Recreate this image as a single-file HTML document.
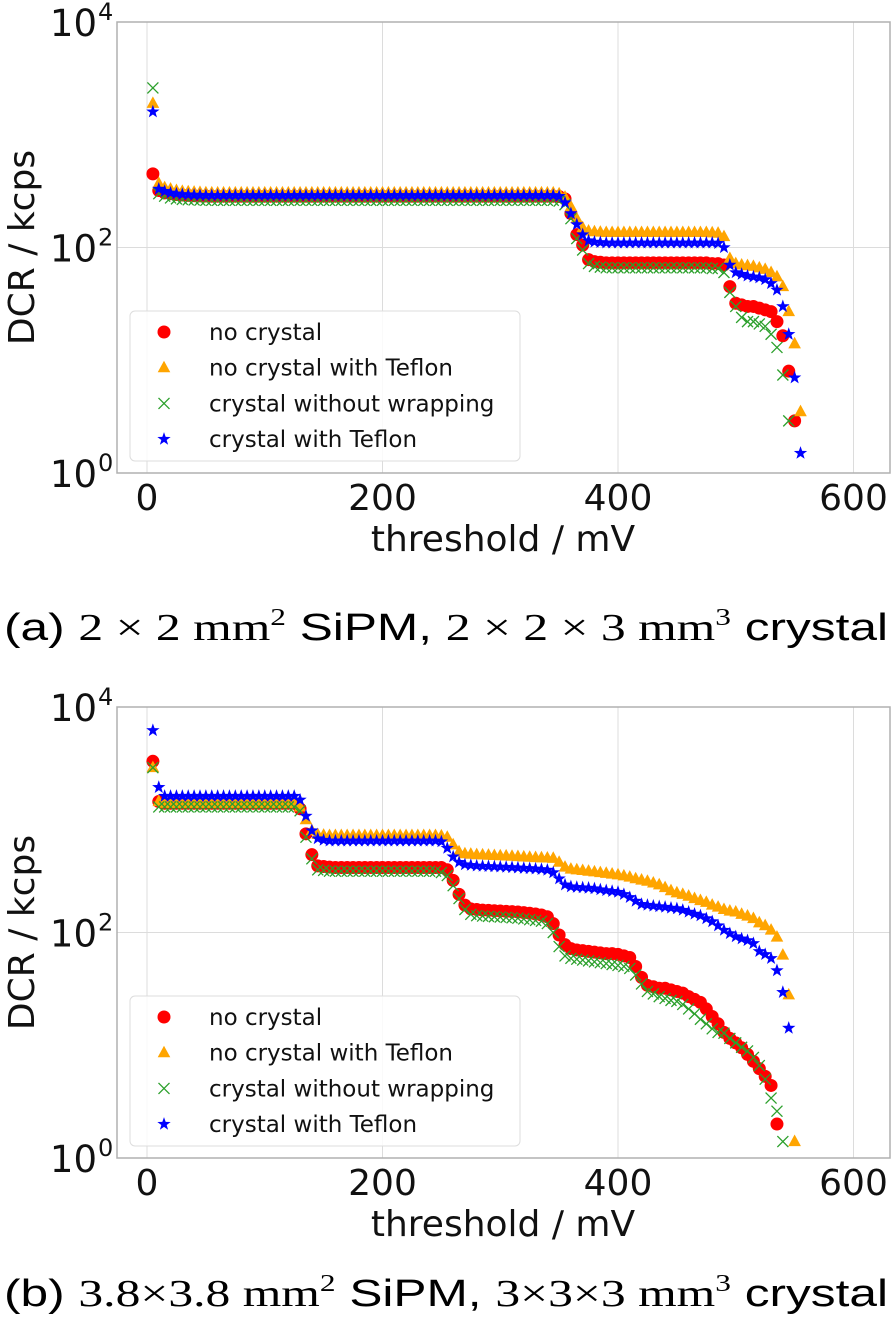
<!DOCTYPE html>
<html><head><meta charset="utf-8"><style>
html,body{margin:0;padding:0;background:#fff}
svg{display:block}
</style></head><body>
<svg id="fig" width="896" height="1321" viewBox="0 0 896 1321" xmlns="http://www.w3.org/2000/svg" font-family="DejaVu Sans, sans-serif">
<text x="4" y="640" font-size="38" font-family="Liberation Sans, sans-serif" textLength="884" lengthAdjust="spacingAndGlyphs">(a) <tspan font-family="Liberation Serif, serif">2 × 2 mm</tspan><tspan font-family="Liberation Serif, serif" font-size="24" dy="-15">2</tspan><tspan dy="15"> SiPM, </tspan><tspan font-family="Liberation Serif, serif">2 × 2 × 3 mm</tspan><tspan font-family="Liberation Serif, serif" font-size="24" dy="-15">3</tspan><tspan dy="15"> crystal</tspan></text>
<text x="4" y="1306" font-size="38" font-family="Liberation Sans, sans-serif" textLength="884" lengthAdjust="spacingAndGlyphs">(b) <tspan font-family="Liberation Serif, serif">3.8×3.8 mm</tspan><tspan font-family="Liberation Serif, serif" font-size="24" dy="-15">2</tspan><tspan dy="15"> SiPM, </tspan><tspan font-family="Liberation Serif, serif">3×3×3 mm</tspan><tspan font-family="Liberation Serif, serif" font-size="24" dy="-15">3</tspan><tspan dy="15"> crystal</tspan></text>
</svg>
<script>
// x grids (mV)
const xTop = [5,10,15,20,25,30,35,40,45,50,55,60,65,70,75,80,85,90,95,100,105,110,115,120,125,130,135,140,145,150,155,160,165,170,175,180,185,190,195,200,205,210,215,220,225,230,235,240,245,250,255,260,265,270,275,280,285,290,295,300,305,310,315,320,325,330,335,340,345,350,355,360,365,370,375,380,385,390,395,400,405,410,415,420,425,430,435,440,445,450,455,460,465,470,475,480,485,490,495,500,505,510,515,520,525,530,535,540,545,550,555];
const xBot = [5,10,15,20,25,30,35,40,45,50,55,60,65,70,75,80,85,90,95,100,105,110,115,120,125,130,135,140,145,150,155,160,165,170,175,180,185,190,195,200,205,210,215,220,225,230,235,240,245,250,255,260,265,270,275,280,285,290,295,300,305,310,315,320,325,330,335,340,345,350,355,360,365,370,375,380,385,390,395,400,405,410,415,420,425,430,435,440,445,450,455,460,465,470,475,480,485,490,495,500,505,510,515,520,525,530,535,540,545,550];
const xTicks = [0,200,400,600];
const yTickExp = [0,2,4];
const seriesNames = ["no crystal","no crystal with Teflon","crystal without wrapping","crystal with Teflon"];

const topRed = [450,320,305,300,295,292,290,288,287,286,
285,285,285,285,285,285,285,285,285,285,
285,285,285,285,285,285,285,285,285,285,
285,285,285,285,285,285,285,285,285,285,
285,285,285,285,285,285,285,285,285,285,
285,285,285,285,285,285,285,285,285,285,
285,285,285,285,285,285,285,285,285,283,
270,200,130,105,78,75,74,73,73,73,
73,73,73,73,73,73,73,73,73,73,
73,73,73,73,73,72,72,70,45,32,
31,30,30,29,28,27,22,16.5,8,2.9,
null];
const topOrange = [1900,370,340,330,320,315,312,310,308,306,
305,305,305,305,305,305,305,305,305,305,
305,305,305,305,305,305,305,305,305,305,
305,305,305,305,305,305,305,305,305,305,
305,305,305,305,305,305,305,305,305,305,
305,305,305,305,305,305,305,305,305,305,
305,305,305,305,305,305,305,305,305,300,
280,230,180,150,140,138,137,136,136,136,
136,136,136,136,136,136,136,136,136,136,
136,136,136,136,136,135,134,125,80,72,
70,69,68,66,64,60,55,45,27,14,
3.5];
const topGreen = [2600,300,285,275,270,267,265,264,263,262,
262,262,262,262,262,262,262,262,262,262,
262,262,262,262,262,262,262,262,262,262,
262,262,262,262,262,262,262,262,262,262,
262,262,262,262,262,262,262,262,262,262,
262,262,262,262,262,262,262,262,262,262,
262,262,262,262,262,262,262,262,262,258,
240,180,120,95,72,68,67,66,66,66,
66,66,66,66,66,66,66,66,66,66,
66,66,66,66,66,65,65,60,40,30,
24,22,22,21,20,17,13,7.4,2.9,null,
null];
const topBlue = [1600,330,315,305,300,296,294,292,291,290,
290,290,290,290,290,290,290,290,290,290,
290,290,290,290,290,290,290,290,290,290,
290,290,290,290,290,290,290,290,290,290,
290,290,290,290,290,290,290,290,290,290,
290,290,290,290,290,290,290,290,290,290,
290,290,290,290,290,290,290,290,290,285,
250,200,160,130,115,112,111,110,110,110,
110,110,110,110,110,110,110,110,110,110,
110,110,110,110,110,110,109,100,70,60,
58,56,55,54,52,48,42,30,17,7,
1.5];

const botRed = [3300,1450,1400,1400,1400,1400,1400,1400,1400,1400,
1400,1400,1400,1400,1400,1400,1400,1400,1400,1400,
1400,1400,1400,1400,1400,1250,750,490,390,385,
380,377,377,377,377,377,377,377,377,377,
377,377,377,377,377,377,377,377,377,377,
360,290,218,175,162,160,158,157,156,155,
154,153,152,150,148,146,143,138,120,95,
78,72,70,69,68,67,66,65,65,64,
62,60,50,40,34,33,32,32,31,30,
29,27,25.5,24,21,18,15.5,13,11.5,10.5,
9.5,8.3,7.2,6.2,5.3,4.4,2.0,null,null,null];
const botOrange = [2900,1450,1400,1400,1400,1400,1400,1400,1400,1400,
1400,1400,1400,1400,1400,1400,1400,1400,1400,1400,
1400,1400,1400,1400,1400,1300,1000,800,740,730,
725,725,725,725,725,725,725,725,725,725,
725,725,725,725,725,725,725,725,725,720,
700,600,520,500,495,490,488,485,482,480,
478,475,472,468,465,462,460,458,455,420,
380,365,360,355,350,345,340,335,330,325,
318,310,300,292,285,275,265,250,235,225,
218,210,200,192,185,175,168,160,155,152,
145,140,133,122,115,105,91,63,28,1.4];
const botGreen = [2900,1300,1300,1300,1300,1300,1300,1300,1300,1300,
1300,1300,1300,1300,1300,1300,1300,1300,1300,1300,
1300,1300,1300,1300,1300,1200,700,450,360,355,
350,350,350,350,350,350,350,350,350,350,
350,350,350,350,350,350,350,350,350,340,
320,260,200,160,145,141,140,139,138,137,
136,135,134,132,130,128,126,120,100,75,
62,59,58,57,56,55,54,53,52,51,
50,48,42,35,30,28.5,27,26,25,24.5,
23,21,19,17,15.5,14,13,12.8,11.5,10.5,
9.6,8.9,7.8,6.6,5,3.4,2.6,1.4,null,null];
const botBlue = [6200,1940,1620,1620,1620,1620,1620,1620,1620,1620,
1620,1620,1620,1620,1620,1620,1620,1620,1620,1620,
1620,1620,1620,1620,1620,1500,1080,800,680,660,
650,650,650,650,650,650,650,650,650,650,
650,650,650,650,650,650,650,650,650,640,
560,470,420,400,395,390,388,386,384,382,
380,378,375,372,370,367,363,358,340,300,
265,255,252,250,248,245,240,236,232,228,
218,205,190,178,175,172,170,168,165,163,
158,152,146,141,133,125,115,105,98,92,
88,85,80,68,64,59,46,29.5,14.2,null];

const NS = "http://www.w3.org/2000/svg";
const svg = document.getElementById('fig');
function mk(tag, attrs, parent){
  const e = document.createElementNS(NS, tag);
  for (const k in attrs) e.setAttribute(k, attrs[k]);
  (parent||svg).appendChild(e);
  return e;
}
const colors = ["#ff0000","#ffa500","#2ca02c","#0000ff"];
const kinds = ["circle","tri","x","star"];

function marker(kind, cx, cy, color, g){
  let e;
  if (kind==="circle"){
    e = mk('circle',{cx:cx,cy:cy,r:6.5,fill:color},g);
  } else if (kind==="tri"){
    const s=7;
    e = mk('polygon',{points:`${cx},${cy-s} ${cx+s*0.9},${cy+s*0.65} ${cx-s*0.9},${cy+s*0.65}`,fill:color},g);
  } else if (kind==="x"){
    const s=5.5;
    e = mk('path',{d:`M${cx-s},${cy-s}L${cx+s},${cy+s}M${cx-s},${cy+s}L${cx+s},${cy-s}`,stroke:color,'stroke-width':1.3,fill:'none'},g);
  } else {
    let p=[];
    for(let i=0;i<10;i++){const r=i%2?2.8:7;const a=-Math.PI/2+i*Math.PI/5;p.push((cx+r*Math.cos(a)).toFixed(2)+","+(cy+r*Math.sin(a)).toFixed(2));}
    e = mk('polygon',{points:p.join(' '),fill:color},g);
  }
  return e;
}

function drawChart(id, top, xs, series){
  const L=117, R=890, T=top, B=top+451;
  const x0=147, pxPerMv=235.5/200, dec=(B-T)/4;
  const sx = v => x0 + v*pxPerMv;
  const sy = v => B - Math.log10(v)*dec;
  const g = mk('g',{});
  
  
  xTicks.forEach(t=>{
    const l = mk('line',{x1:sx(t),x2:sx(t),y1:T,y2:B,stroke:'#dcdcdc','stroke-width':1},g);
    
    
    const tx = mk('text',{x:sx(t),y:B+37,'font-size':36,'text-anchor':'middle',fill:'#111'},g);
    
    
    tx.textContent = t;
  });
  yTickExp.forEach(e=>{
    const y = sy(Math.pow(10,e));
    const l = mk('line',{x1:L,x2:R,y1:y,y2:y,stroke:'#dcdcdc','stroke-width':1},g);
    
    
    const tx = mk('text',{x:97,y:y+14,'font-size':37,'text-anchor':'end',fill:'#111'},g);
    
    
    tx.textContent = '10';
    const sp = mk('text',{x:98,y:y-2,'font-size':24,'text-anchor':'start',fill:'#111'},g);
    
    
    sp.textContent = e;
  });
  const fr = mk('rect',{x:L,y:T,width:R-L,height:B-T,fill:'none',stroke:'#b0b0b0','stroke-width':1.5},g);
  
  
  const yl = mk('text',{x:0,y:0,'font-size':36,'text-anchor':'middle',fill:'#111',transform:`translate(34,${(T+B)/2}) rotate(-90)`},g);
  
  
  yl.textContent='DCR / kcps';
  const xl = mk('text',{x:503,y:B+78,'font-size':36,'text-anchor':'middle',fill:'#111'},g);
  
  
  xl.textContent='threshold / mV';
  series.forEach((vals,si)=>{
    const sg = mk('g',{},g);
    
    
    vals.forEach((v,i)=>{
      if (v===null || v===undefined) return;
      const m = marker(kinds[si], sx(xs[i]), sy(v), colors[si], sg);
      
      
    });
  });
  const lg = mk('g',{},g);
  
  
  mk('rect',{x:130,y:B-162,width:390,height:150,rx:5,fill:'#fff','fill-opacity':0.85,stroke:'#dddddd','stroke-width':1},lg);
  seriesNames.forEach((n,i)=>{
    const y = B-141+i*35.7;
    marker(kinds[i],164,y,colors[i],lg);
    const t = mk('text',{x:209,y:y+8,'font-size':23,fill:'#111'},lg);
    
    
    t.textContent = n;
  });
}
drawChart('top', 22, xTop, [topRed, topOrange, topGreen, topBlue]);
drawChart('bottom', 707, xBot, [botRed, botOrange, botGreen, botBlue]);
</script>
</body></html>
